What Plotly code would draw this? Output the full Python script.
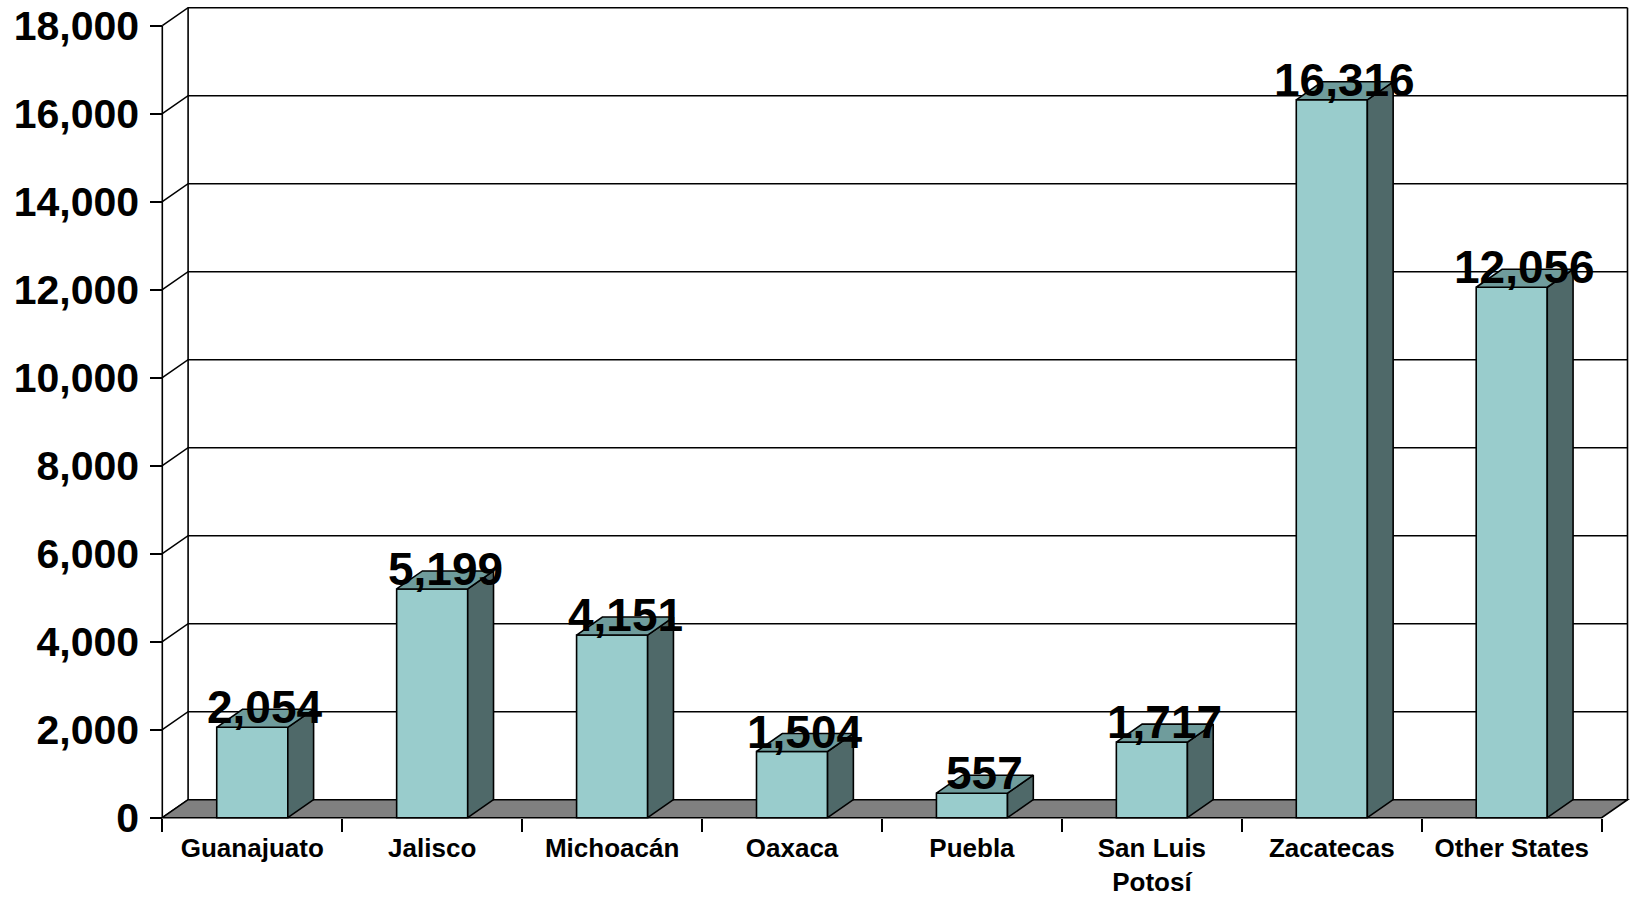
import plotly.graph_objects as go

# Data
states = ["Guanajuato", "Jalisco", "Michoacán", "Oaxaca", "Puebla",
          "San Luis<br>Potosí", "Zacatecas", "Other States"]
values = [2054, 5199, 4151, 1504, 557, 1717, 16316, 12056]
y_ticks = [0, 2000, 4000, 6000, 8000, 10000, 12000, 14000, 16000, 18000]

# Page / plot geometry
W, H = 1631, 898
ML, MR, MT, MB = 150, 0, 0, 60
PLOT_W = W - ML - MR
PLOT_H = H - MT - MB

# pixel positions of the front axis frame
FRONT_LEFT_PX, FRONT_RIGHT_PX = 162.3, 1601.7
ZERO_PX, TOP_PX = 817.7, 25.7
n = len(states)
SX = (FRONT_RIGHT_PX - FRONT_LEFT_PX) / n          # px per category
SY = (ZERO_PX - TOP_PX) / y_ticks[-1]              # px per unit

XMIN = -0.5 - (FRONT_LEFT_PX - ML) / SX
XMAX = XMIN + PLOT_W / SX
YMAX = y_ticks[-1] + (TOP_PX - MT) / SY
YMIN = -((MT + PLOT_H) - ZERO_PX) / SY

# 3-D depth offsets in data units
DX = 25.8 / SX
DY = 18.0 / SY
BW = 0.395

FRONT = "#99CCCC"
TOP = "#6F9C9C"
SIDE = "#4F6969"
FLOOR = "#808080"
LW = 1.6

fig = go.Figure()
shapes = []

x_left, x_right = -0.5, n - 0.5

# side wall + back wall gridlines
for v in y_ticks:
    shapes.append(dict(type="path", xref="x", yref="y", layer="below",
                       path=f"M{x_left},{v} L{x_left + DX},{v + DY} L{x_right + DX},{v + DY}",
                       line=dict(color="black", width=LW)))
for xe in (x_left + DX, x_right + DX):
    shapes.append(dict(type="line", xref="x", yref="y", layer="below",
                       x0=xe, x1=xe, y0=DY, y1=y_ticks[-1] + DY,
                       line=dict(color="black", width=LW)))
# floor
shapes.append(dict(type="path", xref="x", yref="y", layer="below",
                   path=(f"M{x_left},0 L{x_right},0 L{x_right + DX},{DY} "
                         f"L{x_left + DX},{DY} Z"),
                   fillcolor=FLOOR, line=dict(color="black", width=LW)))
# front value axis line
shapes.append(dict(type="line", xref="x", yref="y", layer="above",
                   x0=x_left, x1=x_left, y0=0, y1=y_ticks[-1],
                   line=dict(color="black", width=LW)))

# front faces
fig.add_trace(go.Bar(x=list(range(n)), y=values, width=BW,
                     marker=dict(color=FRONT, line=dict(color="black", width=LW)),
                     hoverinfo="skip", showlegend=False))

# side and top faces
for i, v in enumerate(values):
    xl, xr = i - BW / 2, i + BW / 2
    fig.add_trace(go.Scatter(
        x=[xr, xr + DX, xr + DX, xr, xr], y=[0, DY, v + DY, v, 0],
        mode="lines", fill="toself", fillcolor=SIDE,
        line=dict(color="black", width=LW), hoverinfo="skip", showlegend=False))
    fig.add_trace(go.Scatter(
        x=[xl, xr, xr + DX, xl + DX, xl], y=[v, v, v + DY, v + DY, v],
        mode="lines", fill="toself", fillcolor=TOP,
        line=dict(color="black", width=LW), hoverinfo="skip", showlegend=False))

# value labels
for i, v in enumerate(values):
    fig.add_annotation(x=i + DX / 2, y=v, text=f"{v:,}", showarrow=False,
                       yanchor="middle", yshift=20,
                       font=dict(family="Liberation Sans, Arial", size=46,
                                 color="black", weight=700))

fig.update_layout(
    width=W, height=H,
    margin=dict(l=ML, r=MR, t=MT, b=MB),
    paper_bgcolor="white", plot_bgcolor="white",
    shapes=shapes,
    barmode="overlay",
    showlegend=False,
    xaxis=dict(range=[XMIN, XMAX], anchor="free",
               position=(0 - YMIN) / (YMAX - YMIN),
               tickmode="array", tickvals=list(range(n)), ticktext=states,
               ticks="", showgrid=False, zeroline=False, showline=False,
               automargin=False, ticklabelstandoff=12,
               tickfont=dict(family="Liberation Sans, Arial", size=26,
                             color="black", weight=700),
               minor=dict(tickmode="array",
                          tickvals=[k - 0.5 for k in range(n + 1)],
                          ticks="outside", ticklen=13, tickwidth=LW,
                          tickcolor="black", showgrid=False)),
    yaxis=dict(range=[YMIN, YMAX], anchor="free",
               position=(-0.5 - XMIN) / (XMAX - XMIN),
               tickmode="array", tickvals=y_ticks, tickformat=",d",
               ticks="outside", ticklen=12, tickwidth=LW, tickcolor="black",
               showgrid=False, zeroline=False, showline=False,
               automargin=False, ticklabelstandoff=3,
               tickfont=dict(family="Liberation Sans, Arial", size=41,
                             color="black", weight=700)),
)

fig.write_html("out.html")
